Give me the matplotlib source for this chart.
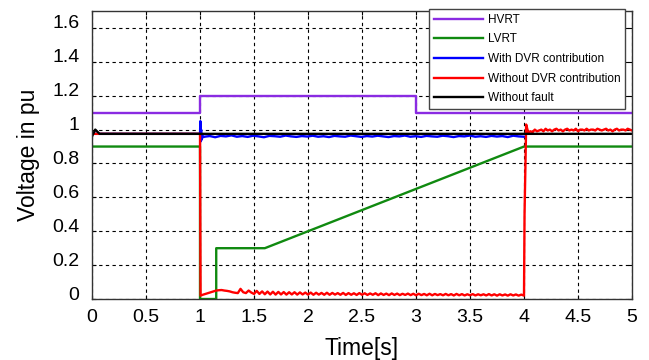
import numpy as np
import matplotlib.pyplot as plt
import matplotlib.transforms as mtransforms

plt.rcParams['font.family'] = ['Liberation Sans', 'DejaVu Sans']

# Ride-through limit curves
hvrt_t = [0, 1, 1, 3, 3, 5]
hvrt_v = [1.1, 1.1, 1.2, 1.2, 1.1, 1.1]
lvrt_t = [0, 1, 1, 1.15, 1.15, 1.6, 4, 5]
lvrt_v = [0.9, 0.9, 0, 0, 0.3, 0.3, 0.9, 0.9]

# Healthy grid voltage
nofault_t = [0, 0.03, 0.07, 5]
nofault_v = [0.96, 1.0, 0.975, 0.975]

# Load voltage with the DVR compensating the sag
dvr_t_start = [0, 1.0, 1.003, 1.006, 1.01, 1.015, 1.02, 1.03]
dvr_v_start = [0.975, 0.975, 1.05, 0.93, 1.0, 0.94, 0.965, 0.955]
dvr_v_ripple = [0.958, 0.962, 0.955, 0.963, 0.96, 0.966, 0.958, 0.962, 0.957, 0.964,
                0.96, 0.955, 0.963, 0.961, 0.958, 0.965, 0.96, 0.957, 0.962, 0.959,
                0.964, 0.958, 0.961, 0.956, 0.963, 0.96, 0.958, 0.965, 0.961, 0.957,
                0.962, 0.959, 0.964, 0.96, 0.956, 0.962, 0.96, 0.965, 0.958, 0.961,
                0.957, 0.963, 0.96, 0.958, 0.964, 0.961, 0.956, 0.962, 0.96, 0.965,
                0.958, 0.961, 0.957, 0.963, 0.959, 0.962, 0.956, 0.964, 0.96, 0.958]

# Load voltage without the DVR
nodvr_t_start = [0, 1.0, 1.005]
nodvr_v_start = [0.975, 0.975, 0.02]
nodvr_v_sag = [0.025, 0.03, 0.035, 0.04, 0.045, 0.05, 0.052, 0.053, 0.05, 0.048,
               0.045, 0.04, 0.037, 0.035, 0.06, 0.04, 0.035, 0.05, 0.038, 0.03,
               0.048, 0.03, 0.045, 0.028, 0.044, 0.027, 0.043, 0.026, 0.042, 0.027,
               0.041, 0.026, 0.04, 0.027, 0.04, 0.026, 0.039, 0.027, 0.038, 0.026,
               0.038, 0.025, 0.037, 0.026, 0.036, 0.025, 0.037, 0.025, 0.036, 0.026,
               0.035, 0.025, 0.036, 0.024, 0.035, 0.025, 0.034, 0.024, 0.035, 0.025,
               0.034, 0.024, 0.033, 0.025, 0.034, 0.023, 0.033, 0.024, 0.032, 0.023,
               0.033, 0.024, 0.032, 0.023, 0.031, 0.024, 0.032, 0.023, 0.031, 0.022,
               0.031, 0.023, 0.03, 0.022, 0.031, 0.022, 0.03, 0.023, 0.029, 0.022,
               0.03, 0.022, 0.029, 0.021, 0.03, 0.022, 0.029, 0.021, 0.028, 0.022,
               0.029, 0.021, 0.028, 0.022, 0.028, 0.021, 0.029, 0.021, 0.028, 0.02,
               0.028, 0.021, 0.027, 0.02, 0.028, 0.021, 0.027, 0.02, 0.026]
nodvr_t_recover = [4.0, 4.005, 4.02, 4.04]
nodvr_v_recover = [0.02, 0.5, 1.03, 0.98]
nodvr_v_after = [0.99, 0.985, 1.0, 0.99, 0.995, 1.0, 0.99, 1.005, 0.995, 1.0,
                 0.99, 1.0, 1.005, 0.995, 1.0, 0.99, 1.0, 1.005, 0.995, 1.0,
                 0.995, 1.005, 0.99, 1.0, 1.0, 0.995, 1.005, 0.995, 1.0, 1.0,
                 0.995, 1.005, 1.0, 0.995, 1.0, 1.005, 0.995, 1.0, 0.99, 1.0,
                 1.005, 0.995, 1.0, 1.0, 0.995, 1.005, 1.0, 0.995]

dvr_t = np.concatenate([dvr_t_start, np.linspace(1.04, 4.0, len(dvr_v_ripple))])
dvr_v = np.concatenate([dvr_v_start, dvr_v_ripple])
nodvr_t = np.concatenate([nodvr_t_start,
                          np.linspace(1.025, 3.975, len(nodvr_v_sag)),
                          nodvr_t_recover,
                          np.linspace(4.06, 5.0, len(nodvr_v_after))])
nodvr_v = np.concatenate([nodvr_v_start, nodvr_v_sag, nodvr_v_recover, nodvr_v_after])

fig = plt.figure(figsize=(6.49, 3.6), dpi=100)
ax = fig.add_axes([0.1418, 0.1694, 0.832, 0.8])

lw = 1.7
ax.plot(hvrt_t, hvrt_v, color='#8a2be2', lw=lw, label='HVRT')
ax.plot(lvrt_t, lvrt_v, color='#108a10', lw=lw, label='LVRT')
ax.plot(dvr_t, dvr_v, color='#0000ff', lw=lw, label='With DVR contribution')
ax.plot(nodvr_t, nodvr_v, color='#ff0000', lw=lw, label='Without DVR contribution')
ax.plot(nofault_t, nofault_v, color='black', lw=lw, label='Without fault')

ax.set_xlim(0, 5)
ax.set_ylim(0, 1.7)
ax.set_xticks(np.arange(0, 5.01, 0.5))
ax.set_xticklabels(['0', '0.5', '1', '1.5', '2', '2.5', '3', '3.5', '4', '4.5', '5'])
ax.set_yticks(np.arange(0, 1.61, 0.2))
ax.set_yticklabels(['0', '0.2', '0.4', '0.6', '0.8', '1', '1.2', '1.4', '1.6'])
ax.grid(True, color='black', linestyle=(0, (3, 3)), linewidth=0.8)
ax.tick_params(direction='in', length=3, labelsize=14, top=True, right=True)
ax.tick_params(axis='x', pad=7)
ax.tick_params(axis='y', pad=9)
for s in ax.spines.values():
    s.set_color('#333333')
    s.set_linewidth(1.0)

# y tick labels sit a little above their grid lines
shift = mtransforms.ScaledTranslation(0, 0.06, fig.dpi_scale_trans)
for lbl in ax.get_yticklabels():
    lbl.set_transform(lbl.get_transform() + shift)

ax.set_ylabel('Voltage in pu', fontsize=16.5, labelpad=9)
ax.set_xlabel('Time[s]', fontsize=16.5, labelpad=8)

leg = ax.legend(loc='upper right', bbox_to_anchor=(0.987, 1.007), borderaxespad=0,
                fontsize=8.5, handlelength=4.2, handletextpad=0.35, labelspacing=0.65,
                fancybox=False, framealpha=1, edgecolor='#444444')
leg.get_frame().set_linewidth(1.0)

fig.savefig('out.png', dpi=100)
